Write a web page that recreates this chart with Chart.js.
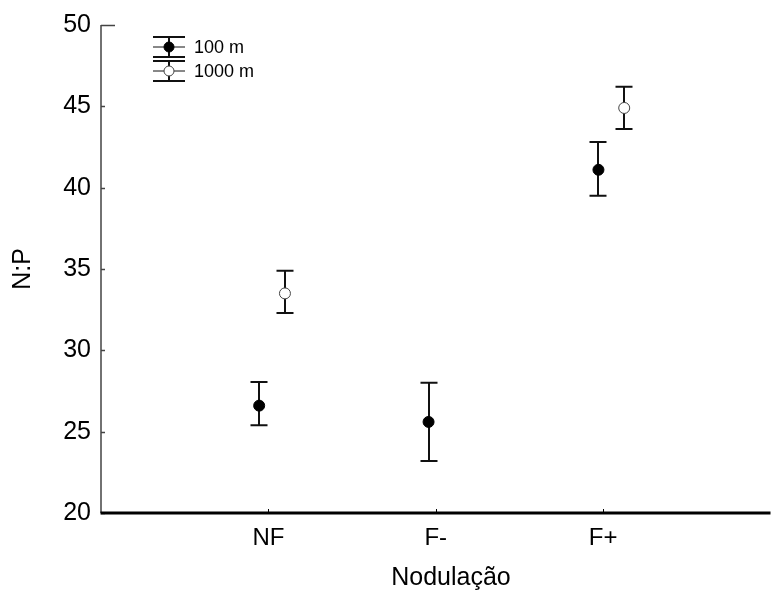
<!DOCTYPE html>
<html>
<head>
<meta charset="utf-8">
<script src="https://cdn.jsdelivr.net/npm/chart.js@4.4.1/dist/chart.umd.min.js"></script>
<style>
  html, body { margin: 0; padding: 0; background: #fff; }
  #wrap { width: 777px; height: 597px; }
</style>
</head>
<body>
<div id="wrap"><canvas id="npChart" width="777" height="597"></canvas></div>
<script>
const categories = ["NF", "F-", "F+"];
const seriesNames = ["100 m", "1000 m"];
// médias e limites das barras de erro
const mean100 = [26.6, 25.6, 41.1];
const low100 = [25.4, 23.2, 39.5];
const high100 = [28.05, 28.0, 42.8];
const mean1000 = [33.5, null, 44.9];
const low1000 = [32.3, null, 43.6];
const high1000 = [34.9, null, 46.2];
// deslocamento horizontal de cada ponto em relação à categoria
const shift100 = [-0.055, -0.043, -0.028];
const shift1000 = [0.099, null, 0.126];
const yTicks = [20, 25, 30, 35, 40, 45, 50];

const FONT = "'Liberation Sans', Arial, sans-serif";
Chart.defaults.font.family = FONT;
Chart.defaults.color = "#000";

function makePoints(means, lows, highs, shifts) {
    const pts = [];
    means.forEach((m, i) => {
        if (m === null) return;
        pts.push({ x: i + shifts[i], y: m, lo: lows[i], hi: highs[i] });
    });
    return pts;
}

// barras de erro (antes dos pontos)
const errorBars = {
    id: "errorBars",
    beforeDatasetsDraw(chart) {
        const ctx = chart.ctx;
        const xs = chart.scales.x, ys = chart.scales.y;
        ctx.save();
        ctx.strokeStyle = "#111";
        ctx.lineWidth = 2;
        chart.data.datasets.forEach(ds => {
            ds.data.forEach(p => {
                const px = Math.round(xs.getPixelForValue(p.x));
                const yLo = ys.getPixelForValue(p.lo);
                const yHi = ys.getPixelForValue(p.hi);
                ctx.beginPath();
                ctx.moveTo(px, yLo); ctx.lineTo(px, yHi);
                ctx.moveTo(px - 8.5, yLo); ctx.lineTo(px + 8.5, yLo);
                ctx.moveTo(px - 8.5, yHi); ctx.lineTo(px + 8.5, yHi);
                ctx.stroke();
            });
        });
        ctx.restore();
    }
};

// eixos, marcas, título x e legenda
const frame = {
    id: "frame",
    afterDraw(chart) {
        const ctx = chart.ctx;
        const a = chart.chartArea;
        const xs = chart.scales.x, ys = chart.scales.y;
        ctx.save();
        // eixo y
        ctx.strokeStyle = "#444";
        ctx.lineWidth = 1.5;
        ctx.beginPath();
        ctx.moveTo(a.left, a.top); ctx.lineTo(a.left, a.bottom);
        yTicks.forEach((v, i) => {
            const py = Math.round(ys.getPixelForValue(v)) + 0.5;
            const len = i === yTicks.length - 1 ? 14 : 4;
            ctx.moveTo(a.left, py); ctx.lineTo(a.left + len, py);
        });
        ctx.stroke();
        // eixo x
        ctx.strokeStyle = "#000";
        ctx.lineWidth = 3;
        ctx.beginPath();
        ctx.moveTo(a.left - 0.5, a.bottom); ctx.lineTo(a.right, a.bottom);
        ctx.stroke();
        ctx.lineWidth = 1;
        ctx.beginPath();
        categories.forEach((c, i) => {
            const px = Math.round(xs.getPixelForValue(i)) + 0.5;
            ctx.moveTo(px, a.bottom - 1); ctx.lineTo(px, a.bottom - 4);
        });
        ctx.stroke();

        // título do eixo x
        ctx.fillStyle = "#000";
        ctx.font = "25px " + FONT;
        ctx.textAlign = "center";
        ctx.textBaseline = "middle";
        ctx.fillText("Nodulação", 451, 578);

        // legenda
        const fills = ["#000", "#fff"];
        const rows = [47, 71];
        const cx = 169;
        rows.forEach((ry, k) => {
            ctx.strokeStyle = "#111";
            ctx.lineWidth = 2;
            ctx.beginPath();
            ctx.moveTo(cx - 16, ry - 10); ctx.lineTo(cx + 16, ry - 10);
            ctx.moveTo(cx - 16, ry + 10); ctx.lineTo(cx + 16, ry + 10);
            ctx.moveTo(cx, ry - 10); ctx.lineTo(cx, ry + 10);
            ctx.stroke();
            ctx.lineWidth = 1;
            ctx.beginPath();
            ctx.moveTo(cx - 16, ry); ctx.lineTo(cx + 16, ry);
            ctx.stroke();
            ctx.beginPath();
            ctx.arc(cx, ry, 5, 0, Math.PI * 2);
            ctx.fillStyle = fills[k];
            ctx.fill();
            ctx.strokeStyle = k === 0 ? "#000" : "#444";
            ctx.stroke();
            ctx.fillStyle = "#000";
            ctx.font = "18px " + FONT;
            ctx.textBaseline = "middle";
            ctx.textAlign = "left";
            ctx.fillText(seriesNames[k], cx + 25, ry + 1);
        });
        ctx.restore();
    }
};

document.addEventListener("DOMContentLoaded", () => {
    const ctx = document.getElementById("npChart").getContext("2d");

    new Chart(ctx, {
        type: "scatter",
        data: {
            datasets: [
                {
                    label: seriesNames[0],
                    data: makePoints(mean100, low100, high100, shift100),
                    backgroundColor: "#000",
                    borderColor: "#000",
                    pointRadius: 5.5,
                    pointBorderWidth: 1
                },
                {
                    label: seriesNames[1],
                    data: makePoints(mean1000, low1000, high1000, shift1000),
                    backgroundColor: "#fff",
                    borderColor: "#444",
                    pointRadius: 5.5,
                    pointBorderWidth: 1
                }
            ]
        },
        options: {
            responsive: false,
            animation: false,
            layout: { padding: { top: 24, right: 0, bottom: 0, left: 0 } },
            plugins: {
                legend: { display: false },
                tooltip: { enabled: false }
            },
            scales: {
                x: {
                    type: "linear",
                    min: -1,
                    max: 3,
                    grid: { display: false, drawTicks: false },
                    border: { display: false },
                    afterBuildTicks: s => { s.ticks = categories.map((c, i) => ({ value: i })); },
                    afterFit: s => { s.height = 84; },
                    ticks: {
                        autoSkip: false,
                        maxRotation: 0,
                        padding: 11,
                        font: { size: 24 },
                        callback: v => categories[v] ?? ""
                    }
                },
                y: {
                    min: 20,
                    max: 50,
                    grid: { display: false, drawTicks: false },
                    border: { display: false },
                    afterBuildTicks: s => { s.ticks = yTicks.map(v => ({ value: v })); },
                    afterFit: s => { s.width = 101; },
                    ticks: {
                        padding: 10,
                        font: { size: 25 }
                    },
                    title: {
                        display: true,
                        text: "N:P",
                        font: { size: 25 },
                        padding: { top: 8, bottom: 0 }
                    }
                }
            }
        },
        plugins: [errorBars, frame]
    });
});
</script>
</body>
</html>
